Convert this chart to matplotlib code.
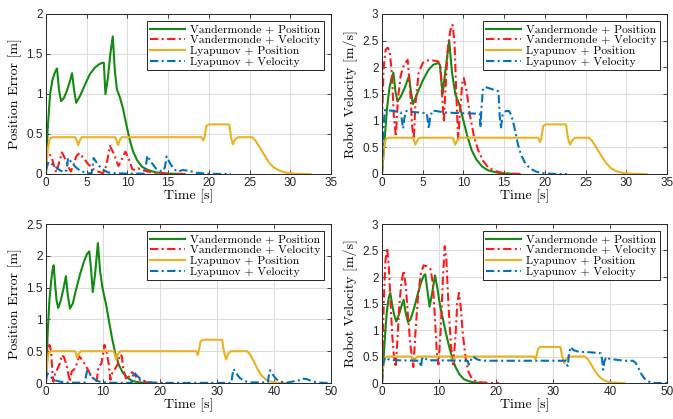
import numpy as np
import matplotlib
matplotlib.use("Agg")
import matplotlib.pyplot as plt
from matplotlib.ticker import FuncFormatter

# ---------------- data ----------------
labels = ["Vandermonde + Position", "Vandermonde + Velocity",
          "Lyapunov + Position", "Lyapunov + Velocity"]

# top left: position error, scenario 1
tl_vp_t = [0, 0.2, 0.5, 0.8, 1.1, 1.35, 1.6, 1.85, 2.2, 2.6, 3.0, 3.2, 3.45, 3.7, 4.2, 4.8, 5.4, 6.0, 6.5, 6.9,
           7.1, 7.3, 7.6, 7.9, 8.2, 8.45, 8.7, 9.1, 9.5, 9.9, 10.3, 10.7, 11.2, 11.8, 12.5, 13.5, 15, 17]
tl_vp_y = [0, 0.55, 1.0, 1.18, 1.27, 1.32, 1.05, 0.91, 0.95, 1.05, 1.18, 1.26, 1.05, 0.89, 0.98, 1.12, 1.25, 1.33,
           1.37, 1.39, 1.39, 1.0, 1.2, 1.5, 1.72, 1.3, 1.06, 0.95, 0.80, 0.60, 0.42, 0.28, 0.17, 0.09, 0.05, 0.02,
           0.005, 0]
tl_vv_t = [0, 0.15, 0.45, 0.8, 1.1, 1.3, 1.55, 1.95, 2.4, 2.8, 3.05, 3.4, 3.7, 4.1, 4.6, 5.2, 5.8, 6.4, 7.0, 7.4,
           7.85, 8.3, 8.9, 9.3, 9.75, 10.2, 10.6, 11.0, 11.3, 11.8, 12.5, 13.5, 14.5, 15.5, 17.3]
tl_vv_y = [0.12, 0.22, 0.25, 0.17, 0.06, 0.02, 0.12, 0.27, 0.18, 0.08, 0.03, 0.12, 0.22, 0.26, 0.2, 0.12, 0.06,
           0.03, 0.01, 0.1, 0.35, 0.26, 0.1, 0.18, 0.28, 0.18, 0.06, 0.05, 0.07, 0.05, 0.03, 0.015, 0.005, 0, 0]
tl_lp_t = [0, 0.2, 0.45, 0.8, 3.6, 3.8, 3.95, 4.15, 4.4, 8.5, 8.7, 8.85, 9.05, 9.3, 19.1, 19.3, 19.45, 19.7, 20.0,
           22.5, 22.75, 22.95, 23.2, 23.6, 25.3, 25.7, 26.2, 26.8, 27.4, 28.0, 28.7, 29.5, 30.5, 31.5, 32.5]
tl_lp_y = [0, 0.3, 0.44, 0.46, 0.46, 0.41, 0.36, 0.42, 0.46, 0.46, 0.41, 0.36, 0.42, 0.46, 0.46, 0.42, 0.45, 0.6,
           0.62, 0.62, 0.45, 0.37, 0.43, 0.46, 0.46, 0.42, 0.34, 0.24, 0.14, 0.08, 0.04, 0.015, 0.004, 0.001, 0]
tl_lv_t = [0, 0.3, 0.8, 1.5, 2.2, 2.55, 2.7, 3.1, 3.6, 4.2, 5.0, 5.6, 5.85, 6.3, 6.9, 7.6, 8.5, 10, 12.0, 12.3,
           12.45, 12.9, 13.5, 14.2, 14.6, 14.8, 15.2, 15.7, 16.2, 16.8, 17.5, 18.5, 20, 22.7]
tl_lv_y = [0.05, 0.15, 0.12, 0.06, 0.02, 0.05, 0.2, 0.15, 0.09, 0.04, 0.01, 0.01, 0.2, 0.13, 0.06, 0.02, 0.01,
           0.005, 0.005, 0.12, 0.23, 0.15, 0.07, 0.03, 0.08, 0.22, 0.14, 0.06, 0.03, 0.05, 0.04, 0.015, 0.003, 0]

# top right: robot velocity, scenario 1
tr_vp_t = [0, 0.3, 0.6, 0.9, 1.2, 1.4, 1.65, 1.9, 2.3, 2.8, 3.3, 3.55, 3.8, 4.3, 5.0, 5.7, 6.3, 6.9, 7.1, 7.45,
           7.8, 8.25, 8.6, 9.0, 9.5, 10.0, 10.5, 11.0, 11.6, 12.3, 13.0, 14.0, 15.0, 16.5]
tr_vp_y = [0, 0.6, 1.2, 1.6, 1.82, 1.9, 1.55, 1.36, 1.45, 1.62, 1.83, 1.55, 1.31, 1.5, 1.75, 1.95, 2.05, 2.08,
           2.05, 1.5, 1.95, 2.5, 1.9, 1.5, 1.3, 1.0, 0.7, 0.45, 0.27, 0.14, 0.07, 0.03, 0.01, 0]
tr_vv_t = [0, 0.2, 0.45, 0.7, 0.95, 1.2, 1.45, 1.7, 1.95, 2.3, 2.7, 3.15, 3.45, 3.7, 3.9, 4.1, 4.5, 5.0, 5.5, 6.2,
           6.9, 7.2, 7.45, 7.6, 7.8, 8.1, 8.4, 8.65, 8.9, 9.1, 9.35, 9.6, 9.85, 10.05, 10.4, 10.8, 11.3, 11.8,
           12.4, 13.0, 13.8, 14.8, 16.0, 17.3]
tr_vv_y = [1.0, 2.0, 2.33, 2.37, 2.3, 1.9, 1.1, 0.7, 1.4, 1.85, 2.05, 2.14, 1.6, 0.9, 0.65, 1.3, 1.9, 2.08, 2.13,
           2.13, 2.11, 2.0, 1.3, 0.97, 1.6, 2.4, 2.7, 2.8, 2.5, 1.6, 0.65, 1.2, 1.7, 1.8, 1.55, 1.1, 0.7, 0.45,
           0.25, 0.13, 0.06, 0.02, 0.005, 0]
tr_lp_t = [0, 0.2, 0.45, 0.8, 3.8, 3.95, 4.1, 4.3, 4.6, 8.7, 8.85, 9.0, 9.2, 9.5, 19.2, 19.4, 19.55, 19.8, 20.1,
           22.6, 22.85, 23.1, 23.35, 23.7, 25.4, 25.8, 26.3, 26.9, 27.5, 28.1, 28.8, 29.6, 30.5, 31.5, 32.5]
tr_lp_y = [0, 0.45, 0.65, 0.68, 0.68, 0.62, 0.55, 0.62, 0.68, 0.68, 0.62, 0.55, 0.62, 0.68, 0.68, 0.6, 0.66, 0.9,
           0.93, 0.93, 0.66, 0.55, 0.63, 0.68, 0.68, 0.62, 0.5, 0.35, 0.21, 0.11, 0.05, 0.02, 0.006, 0.001, 0]
tr_lv_t = [0, 0.15, 0.35, 1.0, 2.3, 2.45, 2.6, 2.75, 2.95, 4.0, 5.5, 5.62, 5.75, 5.9, 6.2, 8.0, 12.0, 12.1, 12.2,
           12.4, 12.7, 14.3, 14.45, 14.6, 14.8, 15.2, 15.6, 15.9, 16.3, 16.7, 17.1, 17.6, 18.2, 19.0, 20.0, 21.2,
           22.7]
tr_lv_y = [0, 0.8, 1.2, 1.19, 1.16, 1.0, 0.85, 1.05, 1.18, 1.16, 1.14, 1.0, 0.85, 1.05, 1.19, 1.15, 1.13, 0.87,
           1.2, 1.6, 1.63, 1.55, 1.1, 0.85, 1.1, 1.18, 1.18, 1.1, 0.85, 0.55, 0.35, 0.2, 0.1, 0.04, 0.01, 0.002, 0]

# bottom left: position error, scenario 2
bl_vp_t = [0, 0.3, 0.6, 0.9, 1.15, 1.35, 1.6, 1.85, 2.15, 2.6, 3.1, 3.5, 3.8, 4.2, 4.7, 5.3, 6.0, 6.7, 7.2, 7.6,
           7.9, 8.2, 8.6, 9.1, 9.5, 9.9, 10.5, 11.0, 11.6, 12.2, 12.8, 13.5, 14.3, 15.2, 16.3, 17.5]
bl_vp_y = [0, 0.8, 1.3, 1.6, 1.78, 1.85, 1.55, 1.3, 1.18, 1.3, 1.5, 1.68, 1.4, 1.17, 1.25, 1.48, 1.72, 1.92, 2.03,
           2.07, 1.8, 1.43, 1.7, 2.2, 1.75, 1.5, 1.25, 1.0, 0.7, 0.45, 0.28, 0.16, 0.08, 0.03, 0.01, 0]
bl_vv_t = [0, 0.3, 0.6, 0.9, 1.1, 1.3, 1.6, 2.0, 2.4, 2.8, 3.2, 3.6, 3.9, 4.2, 4.5, 5.0, 5.4, 5.8, 6.2, 6.8, 7.4,
           8.0, 8.5, 8.9, 9.2, 9.7, 10.0, 10.25, 10.6, 11.0, 11.3, 11.6, 12.1, 12.6, 13.0, 13.3, 13.6, 14.0, 14.3,
           14.7, 15.1, 15.5, 16.0, 16.8, 17.8, 19.0, 20.5]
bl_vv_y = [0.3, 0.5, 0.6, 0.5, 0.2, 0.02, 0.15, 0.22, 0.3, 0.44, 0.4, 0.28, 0.15, 0.02, 0.18, 0.22, 0.3, 0.42,
           0.38, 0.3, 0.2, 0.1, 0.05, 0.03, 0.26, 0.3, 0.45, 0.6, 0.5, 0.3, 0.05, 0.15, 0.22, 0.3, 0.45, 0.42, 0.2,
           0.08, 0.05, 0.14, 0.17, 0.14, 0.07, 0.03, 0.01, 0.002, 0]
bl_lp_t = [0, 0.2, 0.45, 0.8, 5.1, 5.3, 5.5, 5.7, 6.1, 11.9, 12.1, 12.3, 12.6, 13.0, 26.4, 26.6, 26.8, 27.1, 27.5,
           30.9, 31.2, 31.6, 31.9, 32.4, 35.3, 35.8, 36.4, 37.1, 37.8, 38.5, 39.3, 40.2, 41.0, 42.0]
bl_lp_y = [0, 0.3, 0.47, 0.5, 0.5, 0.45, 0.39, 0.45, 0.5, 0.5, 0.43, 0.37, 0.45, 0.5, 0.5, 0.44, 0.5, 0.65, 0.68,
           0.68, 0.5, 0.37, 0.45, 0.5, 0.5, 0.45, 0.35, 0.22, 0.12, 0.06, 0.025, 0.008, 0.002, 0]
bl_lv_t = [0, 0.2, 0.5, 1.0, 1.7, 2.5, 4.0, 6.8, 7.0, 7.2, 7.6, 8.1, 8.8, 9.6, 11, 15.0, 15.2, 15.45, 15.9, 16.5,
           17.3, 18.3, 20, 32.5, 32.7, 32.9, 33.4, 34.0, 34.8, 35.8, 38.9, 39.1, 39.3, 39.8, 40.4, 41.2, 42.2,
           44.3, 45.0, 45.8, 46.6, 47.5, 48.5, 50]
bl_lv_y = [0.05, 0.15, 0.13, 0.08, 0.04, 0.02, 0.005, 0.005, 0.1, 0.19, 0.15, 0.09, 0.04, 0.015, 0.003, 0.003,
           0.1, 0.17, 0.12, 0.07, 0.03, 0.01, 0.002, 0.002, 0.12, 0.22, 0.15, 0.08, 0.03, 0.01, 0.01, 0.12, 0.2,
           0.13, 0.06, 0.02, 0.005, 0.04, 0.07, 0.06, 0.03, 0.01, 0.003, 0]

# bottom right: robot velocity, scenario 2
br_vp_t = [0, 0.3, 0.6, 0.9, 1.2, 1.45, 1.75, 2.1, 2.5, 3.0, 3.5, 3.8, 4.1, 4.55, 5.0, 5.6, 6.2, 6.8, 7.3, 7.6,
           7.9, 8.35, 8.8, 9.3, 9.7, 10.2, 10.7, 11.2, 11.7, 12.3, 12.9, 13.6, 14.4, 15.3, 16.3, 17.5]
br_vp_y = [0, 0.5, 1.0, 1.4, 1.62, 1.7, 1.5, 1.3, 1.16, 1.3, 1.48, 1.57, 1.35, 1.15, 1.2, 1.4, 1.65, 1.88, 2.02,
           2.05, 1.8, 1.44, 1.7, 2.03, 1.8, 1.45, 1.2, 0.95, 0.72, 0.48, 0.3, 0.16, 0.07, 0.03, 0.01, 0]
br_vv_t = [0, 0.3, 0.6, 0.9, 1.2, 1.5, 1.8, 2.1, 2.4, 2.7, 3.0, 3.4, 3.8, 4.2, 4.6, 5.0, 5.5, 5.9, 6.3, 6.8, 7.3,
           7.9, 8.5, 8.9, 9.3, 9.6, 9.9, 10.3, 10.7, 11.0, 11.3, 11.7, 12.1, 12.5, 12.9, 13.2, 13.5, 13.8, 14.2,
           14.7, 15.2, 15.8, 16.5, 17.5, 18.8, 20.5]
br_vv_y = [0.0, 1.5, 2.3, 2.55, 2.2, 1.5, 0.9, 0.5, 0.3, 0.8, 1.4, 1.9, 2.12, 1.8, 1.2, 0.7, 0.3, 1.0, 1.6, 2.05,
           2.22, 2.2, 2.15, 1.9, 1.2, 0.6, 0.35, 1.0, 2.0, 2.58, 2.3, 1.4, 0.7, 0.35, 0.9, 1.5, 1.7, 1.45, 0.9,
           0.45, 0.2, 0.08, 0.03, 0.01, 0.002, 0]
br_lp_t = [0, 0.2, 0.5, 0.9, 5.2, 5.4, 5.6, 5.8, 6.2, 12.0, 12.2, 12.4, 12.7, 13.1, 26.7, 26.9, 27.1, 27.4, 27.8,
           31.3, 31.6, 32.0, 32.3, 32.8, 35.6, 36.1, 36.7, 37.4, 38.1, 38.8, 39.6, 40.5, 41.4, 42.5]
br_lp_y = [0, 0.3, 0.47, 0.5, 0.5, 0.45, 0.4, 0.45, 0.5, 0.5, 0.45, 0.4, 0.46, 0.5, 0.5, 0.45, 0.5, 0.65, 0.68,
           0.68, 0.5, 0.37, 0.45, 0.5, 0.5, 0.45, 0.35, 0.22, 0.12, 0.06, 0.025, 0.008, 0.002, 0]
br_lv_t = [0, 0.2, 0.5, 1.0, 2.0, 6.5, 6.7, 6.85, 7.0, 7.3, 8.0, 15.0, 15.2, 15.4, 15.7, 16.0, 16.6, 17.5, 32.2,
           32.4, 32.6, 32.8, 33.1, 33.6, 34.5, 36.5, 38.4, 38.6, 38.8, 39.0, 39.3, 39.8, 41.0, 42.5, 44.0, 44.5,
           45.0, 45.5, 46.0, 46.5, 47.2, 48.0, 50]
br_lv_y = [0, 0.35, 0.48, 0.45, 0.43, 0.42, 0.36, 0.3, 0.45, 0.49, 0.43, 0.42, 0.35, 0.36, 0.47, 0.5, 0.45, 0.42,
           0.42, 0.35, 0.32, 0.55, 0.68, 0.62, 0.59, 0.58, 0.56, 0.45, 0.25, 0.4, 0.49, 0.46, 0.44, 0.42, 0.42,
           0.38, 0.28, 0.17, 0.09, 0.04, 0.01, 0, 0]

# ---------------- style ----------------
colors = ["#138a13", "#ff1a1a", "#edb120", "#0072bd"]
dashdot = (0, (4.0, 1.6, 1.0, 1.6))
styles = ["-", dashdot, "-", dashdot]
serif = "cmr10"

W, H = 673, 419
fig = plt.figure(figsize=(W / 100, H / 100), dpi=100)


def make_axes(px_left, px_top, px_w=285, px_h=160):
    return fig.add_axes([px_left / W, 1 - (px_top + px_h) / H, px_w / W, px_h / H])


def draw_panel(ax, series, xmax, xticks, ymax, yticks, ylabel):
    for (t, y), c, ls, lab in zip(series, colors, styles, labels):
        ax.plot(t, y, color=c, linestyle=ls, linewidth=1.5, label=lab)
    ax.set_xlim(0, xmax)
    ax.set_ylim(0, ymax)
    ax.set_xticks(xticks)
    ax.set_yticks(yticks)
    fmt = FuncFormatter(lambda v, p: "%g" % v)
    ax.xaxis.set_major_formatter(fmt)
    ax.yaxis.set_major_formatter(fmt)
    ax.grid(True, color="#dcdcdc", linewidth=0.8)
    ax.set_axisbelow(True)
    ax.tick_params(direction="in", length=3, width=0.6, labelsize=8.5, colors="#262626",
                   top=True, right=True, pad=2.5)
    for lab in ax.get_xticklabels() + ax.get_yticklabels():
        lab.set_fontfamily("Liberation Sans")
    for s in ax.spines.values():
        s.set_color("#262626")
        s.set_linewidth(0.7)
    ax.set_xlabel("Time [s]", fontfamily=serif, fontsize=10, labelpad=0)
    ax.set_ylabel(ylabel, fontfamily=serif, fontsize=10, labelpad=3)
    leg = ax.legend(loc="upper right", prop={"family": serif, "size": 8.4}, fancybox=False,
                    framealpha=1, edgecolor="#262626", handlelength=3.0, handletextpad=0.4,
                    borderaxespad=0.6, labelspacing=0.05, borderpad=0.3)
    leg.get_frame().set_linewidth(0.7)


ax1 = make_axes(46, 14)
draw_panel(ax1, [(tl_vp_t, tl_vp_y), (tl_vv_t, tl_vv_y), (tl_lp_t, tl_lp_y), (tl_lv_t, tl_lv_y)],
           35, np.arange(0, 36, 5), 2, np.arange(0, 2.01, 0.5), "Position Error [m]")

ax2 = make_axes(382, 14)
draw_panel(ax2, [(tr_vp_t, tr_vp_y), (tr_vv_t, tr_vv_y), (tr_lp_t, tr_lp_y), (tr_lv_t, tr_lv_y)],
           35, np.arange(0, 36, 5), 3, np.arange(0, 3.01, 0.5), "Robot Velocity [m/s]")

ax3 = make_axes(46, 224, px_h=159)
draw_panel(ax3, [(bl_vp_t, bl_vp_y), (bl_vv_t, bl_vv_y), (bl_lp_t, bl_lp_y), (bl_lv_t, bl_lv_y)],
           50, np.arange(0, 51, 10), 2.5, np.arange(0, 2.51, 0.5), "Position Error [m]")

ax4 = make_axes(382, 224, px_h=159)
draw_panel(ax4, [(br_vp_t, br_vp_y), (br_vv_t, br_vv_y), (br_lp_t, br_lp_y), (br_lv_t, br_lv_y)],
           50, np.arange(0, 51, 10), 3, np.arange(0, 3.01, 0.5), "Robot Velocity [m/s]")

fig.savefig("out.png", dpi=100)
